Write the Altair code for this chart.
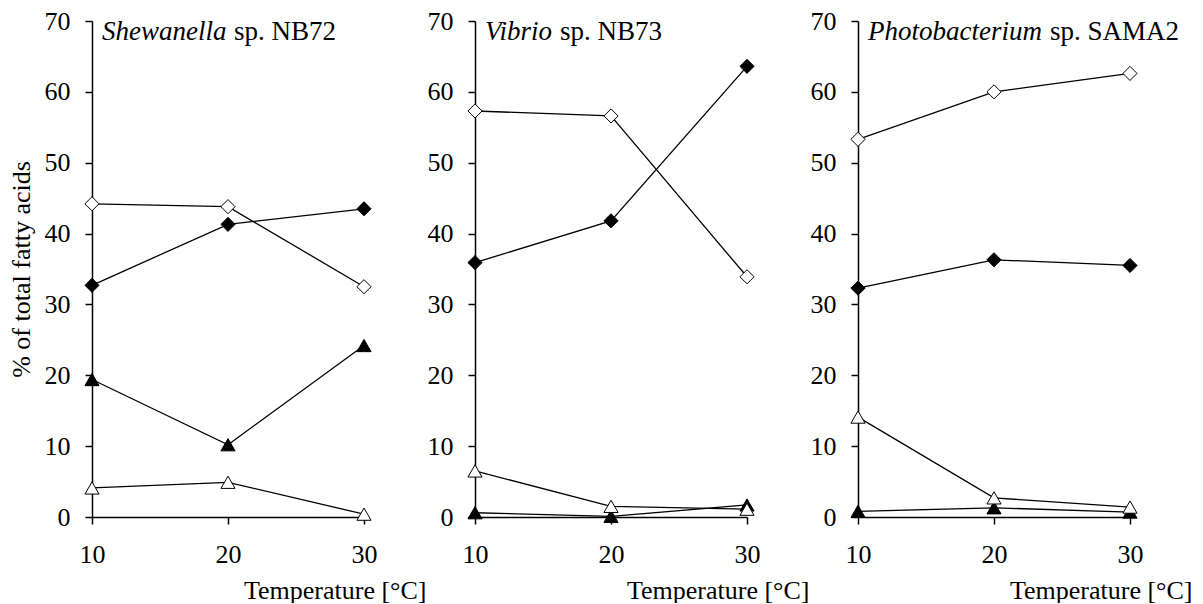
import altair as alt
import pandas as pd

temps = [10, 20, 30]
genus = ["Shewanella", "Vibrio", "Photobacterium"]
strain = ["sp. NB72", "sp. NB73", "sp. SAMA2"]
series = ["open diamond", "filled diamond", "filled triangle", "open triangle"]

# Shewanella sp. NB72
shew_open_diamond = [44.2, 43.8, 32.5]
shew_filled_diamond = [32.7, 41.3, 43.5]
shew_filled_triangle = [19.4, 10.2, 24.2]
shew_open_triangle = [4.1, 4.9, 0.4]

# Vibrio sp. NB73
vib_open_diamond = [57.3, 56.6, 33.9]
vib_filled_diamond = [35.9, 41.8, 63.6]
vib_filled_triangle = [0.6, 0.1, 1.7]
vib_open_triangle = [6.5, 1.5, 1.1]

# Photobacterium sp. SAMA2
pho_open_diamond = [53.3, 60.0, 62.6]
pho_filled_diamond = [32.3, 36.3, 35.5]
pho_filled_triangle = [0.8, 1.3, 0.7]
pho_open_triangle = [14.1, 2.7, 1.4]

panel_values = [
    [shew_open_diamond, shew_filled_diamond, shew_filled_triangle, shew_open_triangle],
    [vib_open_diamond, vib_filled_diamond, vib_filled_triangle, vib_open_triangle],
    [pho_open_diamond, pho_filled_diamond, pho_filled_triangle, pho_open_triangle],
]

FONT = "Liberation Serif"
W, H = 272, 496
strain_offsets = [142, 85, 192]


def make_panel(i):
    rows = []
    for s, vals in zip(series, panel_values[i]):
        for t, v in zip(temps, vals):
            rows.append({"temp": t, "value": v, "series": s})
    df = pd.DataFrame(rows)

    x = alt.X(
        "temp:Q",
        scale=alt.Scale(domain=[10, 30], nice=False, zero=False),
        axis=alt.Axis(
            values=temps,
            format="d",
            title="Temperature [°C]",
            titleAlign="right",
            titleBaseline="alphabetic",
            titleX=W + 62,
            titleY=81,
            labelPadding=17,
            labelFlush=False,
            labelFont=FONT,
            titleFont=FONT,
        ),
    )
    y = alt.Y(
        "value:Q",
        scale=alt.Scale(domain=[0, 70], nice=False),
        axis=alt.Axis(
            values=list(range(0, 71, 10)),
            title="% of total fatty acids" if i == 0 else None,
            labelPadding=15,
            titlePadding=10,
            labelFlush=False,
            labelFont=FONT,
            titleFont=FONT,
        ),
    )
    base = alt.Chart(df)
    lines = base.mark_line(color="black", strokeWidth=1.3).encode(
        x=x, y=y, detail="series:N"
    )
    points = base.mark_point(
        filled=True, stroke="black", strokeWidth=1, opacity=1
    ).encode(
        x=x,
        y=y,
        shape=alt.Shape(
            "series:N",
            scale=alt.Scale(domain=series, range=["diamond", "diamond", "triangle-up", "triangle-up"]),
            legend=None,
        ),
        fill=alt.Fill(
            "series:N",
            scale=alt.Scale(domain=series, range=["white", "black", "black", "white"]),
            legend=None,
        ),
        size=alt.Size(
            "series:N",
            scale=alt.Scale(domain=series, range=[200, 200, 170, 170]),
            legend=None,
        ),
    )
    lab = alt.Chart(pd.DataFrame({"g": [genus[i]], "s": [strain[i]]}))
    t_genus = lab.mark_text(
        font=FONT, fontSize=27, fontStyle="italic", align="left",
        baseline="alphabetic", color="black",
    ).encode(text="g:N", x=alt.value(10), y=alt.value(19))
    t_strain = lab.mark_text(
        font=FONT, fontSize=27, align="left", baseline="alphabetic", color="black",
    ).encode(text="s:N", x=alt.value(strain_offsets[i]), y=alt.value(19))
    return alt.layer(lines, points, t_genus, t_strain).properties(width=W, height=H)


chart = (
    alt.hconcat(make_panel(0), make_panel(1), make_panel(2), spacing=111, bounds="flush")
    .properties(padding=0)
    .configure(font=FONT)
    .configure_view(stroke=None)
    .configure_axis(
        grid=False,
        domainColor="black",
        domainWidth=1.5,
        tickColor="black",
        tickWidth=1.5,
        tickSize=7,
        labelColor="black",
        titleColor="black",
        labelFont=FONT,
        titleFont=FONT,
        labelFontSize=26,
        titleFontSize=26,
        titleFontWeight="normal",
    )
)

chart.save("out.html", embed_options={"renderer": "svg", "actions": False})
